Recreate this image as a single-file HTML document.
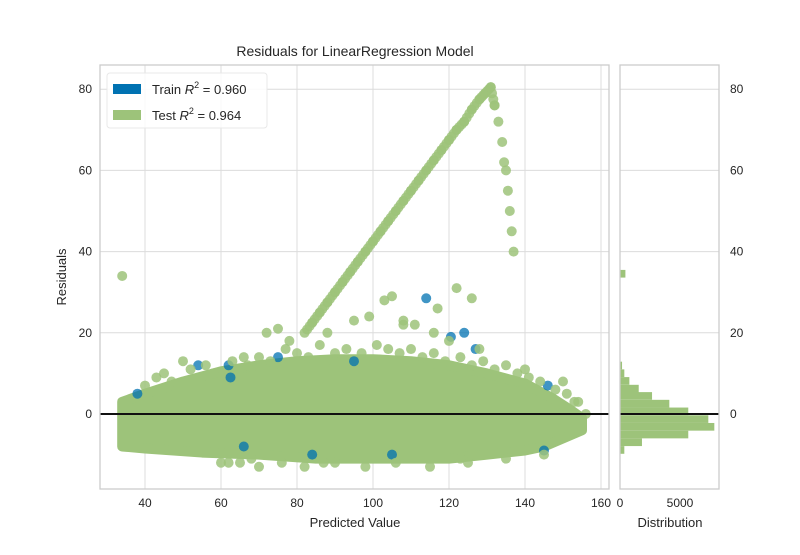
<!DOCTYPE html>
<html><head><meta charset="utf-8"><style>
body{margin:0;background:#fff;}
svg text{font-family:"Liberation Sans","DejaVu Sans",sans-serif;fill:#262626;}
</style></head><body>
<svg id="chart" width="800" height="550" xmlns="http://www.w3.org/2000/svg">
<rect width="800" height="550" fill="#fff"/>
<g id="grid"></g>
<g id="cloud"></g>
<g id="pts"></g>
<g id="hist"></g>
<g id="axes"></g>
<text x="355" y="56" font-size="14" text-anchor="middle">Residuals for LinearRegression Model</text>
<text x="355" y="527" font-size="13" text-anchor="middle">Predicted Value</text>
<text transform="translate(66,277) rotate(-90)" font-size="13" text-anchor="middle">Residuals</text>
<text x="670" y="527" font-size="13" text-anchor="middle">Distribution</text>
<g>
<rect x="107" y="73" width="160" height="55" rx="3" fill="#fff" fill-opacity="0.85" stroke="#e8e8e8"/>
<rect x="113" y="84" width="28" height="10" fill="#0072B2"/>
<text x="152" y="94" font-size="13">Train <tspan font-style="italic">R</tspan><tspan font-size="9" dy="-6">2</tspan><tspan dy="6"> = 0.960</tspan></text>
<rect x="113" y="110" width="28" height="10" fill="#9dc37a"/>
<text x="152" y="120" font-size="13">Test <tspan font-style="italic">R</tspan><tspan font-size="9" dy="-6">2</tspan><tspan dy="6"> = 0.964</tspan></text>
</g>
</svg>
<script>
const xTicks=[40,60,80,100,120,140,160];
const yTicks=[0,20,40,60,80];
const histTicks=[0,5000];
const cloudUpper=[[34,3],[40,5],[50,8],[60,10.5],[70,12],[80,13],[90,13.5],[100,13.5],[110,13],[120,12],[130,10],[140,7.5],[147,4],[152,1],[155,-1]];
const cloudLower=[[155,-4],[150,-6],[145,-8],[140,-9],[130,-10],[120,-11],[110,-11],[100,-11],[85,-11],[70,-10],[55,-9.5],[40,-8.5],[34,-8]];
const trainX=[114,120.5,124,127,38,54,62,145,146,66,105,84,75,62.5,95];
const trainY=[28.5,19,20,16,5,12,12,-9,7,-8,-10,-10,14,9,13];
const testX=[34,82,84,86,88,90,92,94,96,98,100,102,104,106,108,110,112,114,116,118,120,122,124,126,128,129.5,131,132,133,134,134.5,135,135.5,136,136.5,137,
 103,105,108,117,122,126,99,95,108,116,111,120,128,75,72,78,140,150,154,156,45,50,66,88,62,
 40,43,47,52,56,58,63,67,70,73,77,80,83,86,90,93,97,101,104,107,110,113,116,119,123,126,129,132,135,138,141,144,148,151,153,
 60,65,70,76,82,90,98,106,115,125,135,145,68,87,123];
const testY=[34,20,22.5,25,27.5,30,32.5,35,37.5,40,42.5,45,47.5,50,52.5,55,57.5,60,62.5,65,67.5,70,72,75,77.5,79,80.5,76,72,67,62,60,55,50,45,40,
 28,29,22,26,31,28.5,24,23,23,20,22,18,16,21,20,18,11,8,3,0,10,13,14,20,-12,
 7,9,8,11,12,10,13,12,14,13,16,15,14,17,15,16,15,17,16,15,16,14,15,13,14,12,13,11,12,10,9,8,6,5,3,
 -12,-12,-13,-12,-13,-12,-13,-12,-13,-12,-11,-10,-11,-12,-11];
const histBinLow=[33.6,11.0,9.1,7.2,5.3,3.5,1.6,-0.3,-2.2,-4.1,-6.0,-7.9,-9.8,-11.7];
const histCounts=[450,170,360,780,1560,2670,4110,5690,7360,7860,5690,1830,360,30];
const binWidth=1.89;

const NS="http://www.w3.org/2000/svg";
const X0=100,X1=609,Y0=65,Y1=489,H0=620,H1=719;
const sx=v=>145+(v-40)*3.8;
const sy=v=>414-v*4.06;
const sh=c=>H0+c*0.012;
function mk(tag,attrs,parent){const e=document.createElementNS(NS,tag);for(const k in attrs)e.setAttribute(k,attrs[k]);parent.appendChild(e);return e;}
const grid=document.getElementById('grid'),axes=document.getElementById('axes');
xTicks.forEach(t=>{
 const l=mk('line',{x1:sx(t),x2:sx(t),y1:Y0,y2:Y1,stroke:'#dcdcdc','stroke-width':1},grid);
 
 
 const tx=mk('text',{x:sx(t),y:507,'font-size':12,'text-anchor':'middle'},axes);tx.textContent=t;
 
 
});
yTicks.forEach(t=>{
 const l=mk('line',{x1:X0,x2:X1,y1:sy(t),y2:sy(t),stroke:'#dcdcdc','stroke-width':1},grid);
 
 
 const l2=mk('line',{x1:H0,x2:H1,y1:sy(t),y2:sy(t),stroke:'#dcdcdc','stroke-width':1},grid);
 
 
 const tx=mk('text',{x:92,y:sy(t)+4,'font-size':12,'text-anchor':'end'},axes);tx.textContent=t;
 
 
 const tx2=mk('text',{x:730,y:sy(t)+4,'font-size':12},axes);tx2.textContent=t;
 
 
});
histTicks.forEach(t=>{
 const tx=mk('text',{x:sh(t),y:507,'font-size':12,'text-anchor':'middle'},axes);tx.textContent=t;
 
 
});
const cloud=document.getElementById('cloud');
const poly=cloudUpper.concat(cloudLower).map(p=>sx(p[0])+','+sy(p[1])).join(' ');
const cp=mk('polygon',{points:poly,fill:'#9dc37a',stroke:'#9dc37a','stroke-width':10,'stroke-linejoin':'round'},cloud);


const pts=document.getElementById('pts');
trainX.forEach((x,i)=>{
 const c=mk('circle',{cx:sx(x),cy:sy(trainY[i]),r:5,fill:'#0072B2','fill-opacity':0.75},pts);
 
 
});
testX.forEach((x,i)=>{
 const c=mk('circle',{cx:sx(x),cy:sy(testY[i]),r:5,fill:'#9dc37a','fill-opacity':0.85},pts);
 
 
});
for(let i=1;i<27;i++){for(let f=0.33;f<1;f+=0.33){
 const c=mk('circle',{cx:sx(testX[i]+(testX[i+1]-testX[i])*f),cy:sy(testY[i]+(testY[i+1]-testY[i])*f),r:5,fill:'#9dc37a','fill-opacity':0.85},pts);
 
 
}}
const hist=document.getElementById('hist');
histBinLow.forEach((b,i)=>{
 const r=mk('rect',{x:H0,y:sy(b+binWidth),width:sh(histCounts[i])-H0,height:sy(b)-sy(b+binWidth),fill:'#9dc37a'},hist);
 
 
});
const z1=mk('line',{x1:X0,x2:X1,y1:sy(0),y2:sy(0),stroke:'#111','stroke-width':2},axes);


const z2=mk('line',{x1:H0,x2:H1,y1:sy(0),y2:sy(0),stroke:'#111','stroke-width':2},axes);


const f1=mk('rect',{x:X0,y:Y0,width:X1-X0,height:Y1-Y0,fill:'none',stroke:'#cccccc','stroke-width':1.3},axes);


const f2=mk('rect',{x:H0,y:Y0,width:H1-H0,height:Y1-Y0,fill:'none',stroke:'#cccccc','stroke-width':1.3},axes);


</script>
</body></html>
